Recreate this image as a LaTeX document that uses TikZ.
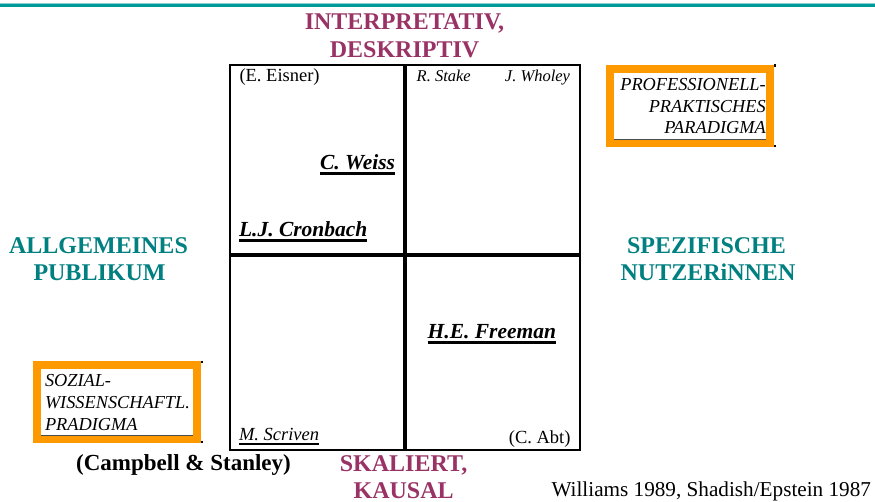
\documentclass[tikz,border=0pt]{standalone}
\usepackage{fontspec}
\setmainfont{Liberation Serif}
\definecolor{headpurple}{RGB}{153,51,102}
\definecolor{headteal}{RGB}{0,128,128}
\definecolor{boxorange}{RGB}{255,153,0}
\definecolor{topteal}{RGB}{0,153,153}
\newcommand{\myul}[3]{\setbox0=\hbox{#3}\rlap{\rule[-#1]{\wd0}{#2}}\box0}
\begin{document}
\begin{tikzpicture}[x=1pt,y=-1pt,
  lbl/.style={inner sep=0pt, outer sep=0pt},
  bighead/.style={lbl, anchor=base, font=\fontsize{24}{28}\selectfont\bfseries},
  axisv/.style={bighead, text=headpurple},
  axish/.style={bighead, text=headteal},
  cellrm/.style={lbl, font=\fontsize{18.5}{22}\selectfont},
  cellit/.style={lbl, font=\fontsize{16.5}{20}\selectfont\itshape},
  cellbi/.style={lbl, font=\fontsize{21.5}{26}\selectfont\bfseries\itshape},
  cellul/.style={lbl, font=\fontsize{18.5}{22}\selectfont\itshape},
  boxtxt/.style={lbl, font=\fontsize{18.3}{22}\selectfont\itshape},
  srcbold/.style={lbl, anchor=base, font=\fontsize{23}{28}\selectfont\bfseries},
  srcrm/.style={lbl, font=\fontsize{21.2}{26}\selectfont},
  frame/.style={line width=2pt},
  divider/.style={line width=4pt},
  shadowline/.style={draw=black!70, line width=0.7pt}
]
\useasboundingbox (0,0) rectangle (875,502);

% top rule
\draw[topteal!45, line width=1pt] (0,3.5) -- (875,3.5);
\draw[topteal, line width=3pt] (0,5.5) -- (875,5.5);

% grid
\draw[frame] (230,65) rectangle (580.3,450.3);
\draw[divider] (404.7,65) -- (404.7,450.3);
\draw[divider] (230,254.7) -- (580.3,254.7);

% orange boxes
\fill[boxorange] (606,65) rectangle (773.5,147);
\fill[white] (614,73) rectangle (766,139);
\draw[shadowline] (614,139) -- (766,139);
\fill[black] (773.5,64.5) rectangle (775.5,67);
\fill[black] (773.5,145) rectangle (775.5,147.5);

\fill[boxorange] (32.7,361) rectangle (200.5,442.7);
\fill[white] (40.7,369) rectangle (192.7,435);
\draw[shadowline] (40.7,435) -- (192.7,435);
\fill[black] (200.5,360.5) rectangle (202.5,363);
\fill[black] (200.5,440.5) rectangle (202.5,443);

% axis labels
\node[axisv] (int1) at (404.5,29.3) {INTERPRETATIV,};
\node[axisv] (int2) at (404.5,57.3) {DESKRIPTIV};
\node[axisv] (ska1) at (403.6,471.5) {SKALIERT,};
\node[axisv] (ska2) at (403.6,498.5) {KAUSAL};
\node[axish] (all1) at (98.5,253.3) {ALLGEMEINES};
\node[axish] (all2) at (99.5,280.7) {PUBLIKUM};
\node[axish] (spe1) at (706.5,253.3) {SPEZIFISCHE};
\node[axish] (spe2) at (708,280.7) {NUTZERiNNEN};

% cell entries
\node[cellrm, anchor=base west] (eisner) at (239.5,82) {(E. Eisner)};
\node[cellit, anchor=base west] (stake) at (416.7,81.3) {R. Stake};
\node[cellit, anchor=base east] (wholey) at (570,81.3) {J. Wholey};
\node[cellbi, anchor=base east] (weiss) at (395,169.3) {\myul{5.5pt}{3pt}{C. Weiss}};
\node[cellbi, anchor=base west] (cronbach) at (239,236.7) {\myul{5.5pt}{3pt}{L.J. Cronbach}};
\node[cellbi, anchor=base west] (freeman) at (427.7,338.3) {\myul{5.5pt}{3pt}{H.E. Freeman}};
\node[cellul, anchor=base west] (scriven) at (239,440.7) {\myul{3.8pt}{1.2pt}{M. Scriven}};
\node[cellrm, anchor=base east] (abt) at (570.5,443.3) {(C. Abt)};

% paradigm boxes text
\node[boxtxt, anchor=base east] (pp1) at (765.7,90.7) {PROFESSIONELL-};
\node[boxtxt, anchor=base east] (pp2) at (765.7,112.3) {PRAKTISCHES};
\node[boxtxt, anchor=base east] (pp3) at (765.7,134) {PARADIGMA};
\node[boxtxt, anchor=base west] (sw1) at (45,386.7) {SOZIAL-};
\node[boxtxt, anchor=base west] (sw2) at (45,408.3) {WISSENSCHAFTL.};
\node[boxtxt, anchor=base west] (sw3) at (45,430) {PRADIGMA};

% sources
\node[srcbold] (campbell) at (183.5,470) {(Campbell \& Stanley)};
\node[srcrm, anchor=base east] (williams) at (871,496.7) {Williams 1989, Shadish/Epstein 1987};
\end{tikzpicture}
\end{document}
